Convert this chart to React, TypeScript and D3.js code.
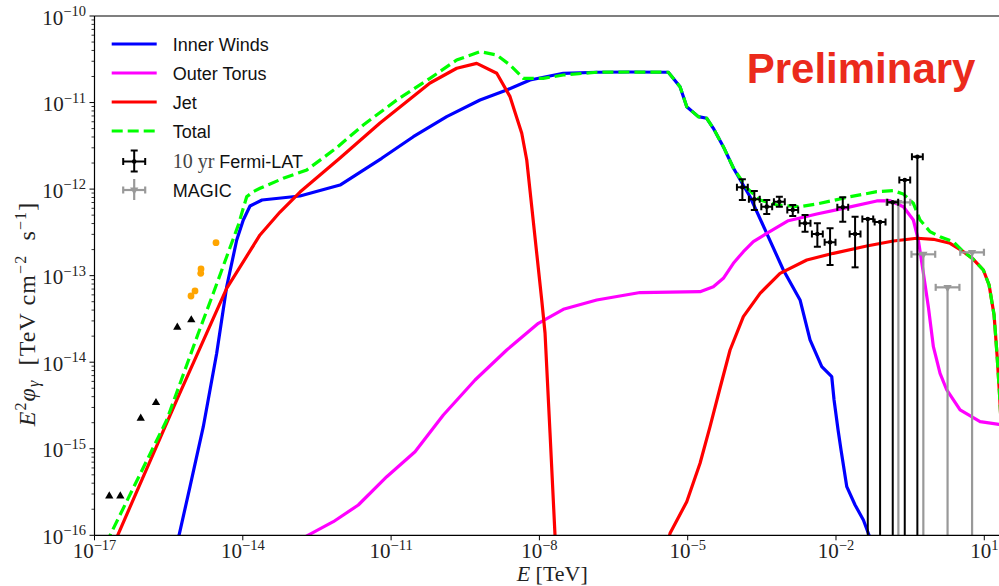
import React from 'react';
import * as d3 from 'd3';

// Spectral energy distribution of the source: model components and data.
// Every pair is [log10(E / TeV), log10(E² φγ / (TeV cm⁻² s⁻¹))].

const innerWinds: [number, number][] = [
  [-15.351, -16.112], [-15.29, -16.0], [-15.068, -15.438], [-14.799, -14.745], [-14.528, -13.897],
  [-14.326, -13.128], [-14.123, -12.588], [-13.99, -12.357], [-13.854, -12.195], [-13.611, -12.126],
  [-12.843, -12.08], [-12.033, -11.953], [-11.19, -11.644], [-10.55, -11.395], [-9.875, -11.163],
  [-9.201, -10.971], [-8.661, -10.855], [-8.189, -10.739], [-7.516, -10.662], [-6.84, -10.65],
  [-6.17, -10.647], [-5.392, -10.65], [-5.155, -10.817], [-5.019, -11.048], [-4.785, -11.163],
  [-4.615, -11.182], [-4.481, -11.298], [-4.279, -11.51], [-4.076, -11.756], [-3.739, -12.088],
  [-3.401, -12.511], [-3.065, -12.935], [-2.727, -13.281], [-2.525, -13.743], [-2.288, -14.052],
  [-2.086, -14.168], [-2.039, -14.437], [-1.958, -14.783], [-1.898, -15.014], [-1.782, -15.438],
  [-1.614, -15.65], [-1.446, -15.823], [-1.331, -16.0], [-1.27, -16.12],
];

const outerTorus: [number, number][] = [
  [-12.843, -16.054], [-12.675, -15.997], [-12.169, -15.843], [-11.663, -15.65], [-11.088, -15.323],
  [-10.516, -15.034], [-9.943, -14.61], [-9.302, -14.206], [-8.661, -13.859], [-8.021, -13.551],
  [-7.516, -13.389], [-6.84, -13.281], [-5.964, -13.195], [-4.75, -13.185], [-4.481, -13.128],
  [-4.279, -13.031], [-4.076, -12.857], [-3.874, -12.723], [-3.672, -12.608], [-3.401, -12.511],
  [-2.964, -12.365], [-2.389, -12.288], [-1.851, -12.222], [-1.175, -12.137], [-0.906, -12.134],
  [-0.637, -12.203], [-0.435, -12.357], [-0.334, -12.588], [-0.233, -12.969], [-0.132, -13.359],
  [-0.03, -13.821], [0.105, -14.128], [0.241, -14.321], [0.51, -14.552], [0.915, -14.687],
  [1.299, -14.718], [1.52, -14.73],
];

const jet: [number, number][] = [
  [-16.6, -16.09], [-16.531, -16.0], [-15.337, -14.437], [-14.326, -13.146], [-13.652, -12.53],
  [-13.247, -12.265], [-12.843, -12.034], [-12.033, -11.641], [-11.224, -11.236], [-10.213, -10.774],
  [-9.672, -10.604], [-9.268, -10.547], [-8.863, -10.662], [-8.594, -10.932], [-8.357, -11.355],
  [-8.256, -11.664], [-7.953, -13.281], [-7.886, -13.663], [-7.785, -14.818], [-7.684, -16.0],
  [-7.64, -16.3], [-5.45, -16.2], [-5.357, -15.977], [-5.019, -15.612], [-4.75, -15.168],
  [-4.548, -14.745], [-4.346, -14.298], [-4.143, -13.859], [-3.874, -13.474], [-3.536, -13.204],
  [-3.132, -12.973], [-2.591, -12.819], [-2.053, -12.742], [-1.378, -12.657], [-0.84, -12.6],
  [-0.366, -12.568], [-0.03, -12.58], [0.308, -12.626], [0.577, -12.723], [0.779, -12.811],
  [0.981, -12.935], [1.097, -13.108], [1.198, -13.455], [1.258, -13.917], [1.309, -14.379],
  [1.38, -15.13],
];

const total: [number, number][] = [
  [-16.76, -16.1], [-16.686, -16.0], [-15.539, -14.668], [-14.9, -13.666], [-14.597, -13.204],
  [-14.326, -12.781], [-14.091, -12.415], [-13.921, -12.088], [-13.787, -12.03], [-13.652, -11.991],
  [-13.18, -11.875], [-12.707, -11.779], [-12.134, -11.537], [-11.562, -11.259], [-10.886, -10.971],
  [-10.213, -10.72], [-9.672, -10.508], [-9.201, -10.412], [-8.863, -10.451], [-8.594, -10.566],
  [-8.325, -10.72], [-7.92, -10.72], [-7.516, -10.682], [-6.84, -10.65], [-6.17, -10.647],
  [-5.392, -10.65], [-5.155, -10.817], [-5.019, -11.048], [-4.785, -11.163], [-4.615, -11.182],
  [-4.481, -11.298], [-4.279, -11.51], [-4.076, -11.756], [-3.805, -11.987], [-3.536, -12.126],
  [-3.198, -12.184], [-2.727, -12.203], [-2.389, -12.172], [-1.715, -12.088], [-1.175, -12.03],
  [-0.84, -12.018], [-0.637, -12.057], [-0.435, -12.164], [-0.299, -12.357], [-0.097, -12.492],
  [0.105, -12.55], [0.374, -12.608], [0.577, -12.723], [0.779, -12.811], [0.981, -12.935],
  [1.097, -13.108], [1.198, -13.455], [1.258, -13.917], [1.309, -14.379], [1.38, -15.13],
];

// Fermi-LAT: [log E, log flux, log lower bound (null: reaches zero), log upper bound]
const fermiLat: [number, number, number | null, number][] = [
  [-3.894, -11.979, -12.126, -11.887],
  [-3.652, -12.118, -12.241, -12.022],
  [-3.401, -12.203, -12.288, -12.126],
  [-3.146, -12.146, -12.203, -12.088],
  [-2.875, -12.241, -12.311, -12.184],
  [-2.626, -12.395, -12.492, -12.299],
  [-2.377, -12.519, -12.666, -12.395],
  [-2.12, -12.615, -12.877, -12.453],
  [-1.863, -12.21, -12.377, -12.095],
  [-1.614, -12.519, -12.904, -12.319],
  [-1.357, -12.345, null, -12.345],
  [-1.108, -12.38, null, -12.38],
  [-0.852, -12.153, null, -12.153],
  [-0.609, -11.895, null, -11.895],
  [-0.354, -11.626, null, -11.626],
];
const fermiHalfBinDex = 0.11;

// MAGIC upper limits: [log E, log flux]
const magic: [number, number][] = [
  [-0.738, -12.153], [-0.233, -12.753], [0.257, -13.135], [0.753, -12.73],
];
const magicHalfBinDex = 0.24;

// Low-energy archival points
const orangePoints: [number, number][] = [
  [-15.048, -13.235], [-14.967, -13.177], [-14.851, -12.973], [-14.845, -12.923], [-14.542, -12.619],
];
const trianglePoints: [number, number][] = [
  [-16.701, -15.546], [-16.478, -15.546], [-16.065, -14.648], [-15.756, -14.468],
  [-15.325, -13.597], [-15.042, -13.512],
];

const xTickExps = [-17, -14, -11, -8, -5, -2, 1];
const yTickExps = [-16, -15, -14, -13, -12, -11, -10];

const seriesLabels = ['Inner Winds', 'Outer Torus', 'Jet', 'Total'];
const seriesColors = ['#0000ff', '#ff00ff', '#ff0000', '#00ff00'];

const W = 999;
const H = 586;
const X0 = 94.5;
const X1 = 1010;
const Y0 = 16;
const Y1 = 535.3;

const SERIF = "'Liberation Serif', 'DejaVu Serif', serif";
const SANS = "'Liberation Sans', Arial, sans-serif";

const expLabel = (e: number) => (e < 0 ? '\u2212' + Math.abs(e) : String(e));

export default function App() {
  const x = d3.scaleLog().domain([1e-17, 10 ** 1.52]).range([X0, X1]);
  const y = d3.scaleLog().domain([1e-16, 1e-10]).range([Y1, Y0]);
  const px = (le: number) => x(10 ** le);
  const py = (lf: number) => y(10 ** lf);
  const line = d3.line<[number, number]>().x((d) => px(d[0])).y((d) => py(d[1]));

  const minorY: number[] = [];
  for (let k = -16; k < -10; k++) for (let m = 2; m <= 9; m++) minorY.push(m * 10 ** k);

  const triUp = d3.symbol(d3.symbolTriangle, 30)() as string;

  const curves = [innerWinds, outerTorus, jet];
  const legendRows = [44, 73, 102, 131, 161.5, 190];
  const lx0 = 111.7;
  const lx1 = 156.7;
  const lxc = (lx0 + lx1) / 2;

  return (
    <svg width={W} height={H} style={{ position: 'absolute', left: 0, top: 0, display: 'block' }}>
      <defs>
        <clipPath id="plotArea">
          <rect x={X0} y={Y0} width={X1 - X0} height={Y1 - Y0} />
        </clipPath>
      </defs>
      <rect x={0} y={0} width={W} height={H} fill="#fff" />

      <g clipPath="url(#plotArea)">
        {curves.map((c, i) => (
          <path key={i} d={line(c) || ''} fill="none" stroke={seriesColors[i]} strokeWidth={3.2} strokeLinejoin="round" />
        ))}
        <path d={line(total) || ''} fill="none" stroke={seriesColors[3]} strokeWidth={3.2} strokeDasharray="11 5" />

        {trianglePoints.map((d, i) => (
          <path key={i} d={triUp} transform={`translate(${px(d[0])},${py(d[1])})`} fill="#000" />
        ))}
        {orangePoints.map((d, i) => (
          <circle key={i} cx={px(d[0])} cy={py(d[1])} r={3.4} fill="#ffa500" />
        ))}

        {magic.map((d, i) => {
          const cx = px(d[0]);
          const cy = py(d[1]);
          const xl = px(d[0] - magicHalfBinDex);
          const xr = px(d[0] + magicHalfBinDex);
          return (
            <g key={i} stroke="#999" strokeWidth={2.2}>
              <line x1={cx} y1={cy} x2={cx} y2={Y1 + 20} />
              <line x1={xl} y1={cy} x2={xr} y2={cy} />
              <line x1={xl} y1={cy - 3.5} x2={xl} y2={cy + 3.5} />
              <line x1={xr} y1={cy - 3.5} x2={xr} y2={cy + 3.5} />
              <path d={triUp} transform={`translate(${cx},${cy}) rotate(180)`} fill="#999" stroke="none" />
            </g>
          );
        })}

        {fermiLat.map((d, i) => {
          const cx = px(d[0]);
          const cy = py(d[1]);
          const yl = d[2] === null ? Y1 + 20 : py(d[2]);
          const yh = py(d[3]);
          const xl = px(d[0] - fermiHalfBinDex);
          const xr = px(d[0] + fermiHalfBinDex);
          return (
            <g key={i} stroke="#000" strokeWidth={2}>
              <line x1={cx} y1={yh} x2={cx} y2={yl} />
              <line x1={cx - 3.5} y1={yh} x2={cx + 3.5} y2={yh} />
              {d[2] !== null && <line x1={cx - 3.5} y1={yl} x2={cx + 3.5} y2={yl} />}
              <line x1={xl} y1={cy} x2={xr} y2={cy} />
              <line x1={xl} y1={cy - 3.5} x2={xl} y2={cy + 3.5} />
              <line x1={xr} y1={cy - 3.5} x2={xr} y2={cy + 3.5} />
              <circle cx={cx} cy={cy} r={2.3} fill="#000" stroke="none" />
            </g>
          );
        })}
      </g>

      {/* frame */}
      <g stroke="#000" strokeWidth={1.2} fill="none">
        <line x1={X0} y1={Y0} x2={X0} y2={Y1} />
        <line x1={X0} y1={Y1} x2={X1} y2={Y1} />
        <line x1={X0} y1={Y0} x2={X1} y2={Y0} />
        <line x1={X1} y1={Y0} x2={X1} y2={Y1} />
      </g>

      {/* x axis */}
      {xTickExps.map((e) => (
        <g key={e}>
          <line x1={x(10 ** e)} y1={Y1} x2={x(10 ** e)} y2={Y1 + 5} stroke="#000" strokeWidth={1} />
          <text x={x(10 ** e)} y={Y1 + 23} textAnchor="middle" fontFamily={SERIF} fontSize={21} fill="#222">
            10<tspan dy={-8.3} fontSize={14.5}>{expLabel(e)}</tspan>
          </text>
        </g>
      ))}
      <text x={(X0 + X1) / 2} y={581} textAnchor="middle" fontFamily={SERIF} fontSize={22} fill="#222">
        <tspan fontStyle="italic">E</tspan> [TeV]
      </text>

      {/* y axis */}
      {minorY.map((v, i) => (
        <line key={i} x1={X0 - 3} y1={y(v)} x2={X0} y2={y(v)} stroke="#000" strokeWidth={0.8} />
      ))}
      {yTickExps.map((e) => (
        <g key={e}>
          <line x1={X0 - 5} y1={y(10 ** e)} x2={X0} y2={y(10 ** e)} stroke="#000" strokeWidth={1} />
          <text x={86} y={y(10 ** e) + 8.5} textAnchor="end" fontFamily={SERIF} fontSize={21} fill="#222">
            10<tspan dy={-8.5} fontSize={14.5}>{expLabel(e)}</tspan>
          </text>
        </g>
      ))}
      <text
        transform="translate(35, 314) rotate(-90)"
        textAnchor="middle"
        fontFamily={SERIF}
        fontSize={24}
        letterSpacing={1.1}
        fill="#222"
        style={{ whiteSpace: 'pre' }}
      >
        <tspan fontStyle="italic">E</tspan>
        <tspan dy={-9} fontSize={16}>2</tspan>
        <tspan dy={9} fontStyle="italic">{'\u03c6'}</tspan>
        <tspan dy={4} fontSize={16} fontStyle="italic">{'\u03b3'}</tspan>
        <tspan dy={-4}>{'  [TeV cm'}</tspan>
        <tspan dy={-9} fontSize={16}>{'\u22122'}</tspan>
        <tspan dy={9}>{'  s'}</tspan>
        <tspan dy={-9} fontSize={16}>{'\u22121'}</tspan>
        <tspan dy={9}>]</tspan>
      </text>

      {/* legend */}
      {seriesLabels.map((lab, i) => (
        <g key={lab}>
          <line
            x1={lx0}
            y1={legendRows[i]}
            x2={lx1}
            y2={legendRows[i]}
            stroke={seriesColors[i]}
            strokeWidth={3.2}
            strokeDasharray={i === 3 ? '11 5' : undefined}
          />
          <text x={172.7} y={legendRows[i] + 6.5} fontFamily={SANS} fontSize={18} fill="#111">
            {lab}
          </text>
        </g>
      ))}
      <g stroke="#000" strokeWidth={2}>
        <line x1={lxc} y1={legendRows[4] - 11} x2={lxc} y2={legendRows[4] + 10} />
        <line x1={lxc - 3.5} y1={legendRows[4] - 11} x2={lxc + 3.5} y2={legendRows[4] - 11} />
        <line x1={lxc - 3.5} y1={legendRows[4] + 10} x2={lxc + 3.5} y2={legendRows[4] + 10} />
        <line x1={lxc - 11} y1={legendRows[4]} x2={lxc + 11} y2={legendRows[4]} />
        <line x1={lxc - 11} y1={legendRows[4] - 3.5} x2={lxc - 11} y2={legendRows[4] + 3.5} />
        <line x1={lxc + 11} y1={legendRows[4] - 3.5} x2={lxc + 11} y2={legendRows[4] + 3.5} />
        <circle cx={lxc} cy={legendRows[4]} r={2.3} fill="#000" stroke="none" />
      </g>
      <text x={172.7} y={legendRows[4] + 6.5} fontSize={18} fill="#111" style={{ whiteSpace: 'pre' }}>
        <tspan fontFamily={SERIF} fontSize={20} fill="#444">10 yr</tspan>
        <tspan fontFamily={SANS}>{' Fermi-LAT'}</tspan>
      </text>
      <g stroke="#999" strokeWidth={2.2}>
        <line x1={lxc} y1={legendRows[5] - 11} x2={lxc} y2={legendRows[5] + 10} />
        <line x1={lxc - 11} y1={legendRows[5]} x2={lxc + 11} y2={legendRows[5]} />
        <line x1={lxc - 11} y1={legendRows[5] - 3.5} x2={lxc - 11} y2={legendRows[5] + 3.5} />
        <line x1={lxc + 11} y1={legendRows[5] - 3.5} x2={lxc + 11} y2={legendRows[5] + 3.5} />
        <path d={triUp} transform={`translate(${lxc},${legendRows[5]}) rotate(180)`} fill="#999" stroke="none" />
      </g>
      <text x={172.7} y={legendRows[5] + 6.5} fontFamily={SANS} fontSize={18} fill="#111">
        MAGIC
      </text>

      <text x={746.7} y={83.3} fontFamily={SANS} fontWeight="bold" fontSize={42} fill="#eb2a1c">
        Preliminary
      </text>
    </svg>
  );
}
